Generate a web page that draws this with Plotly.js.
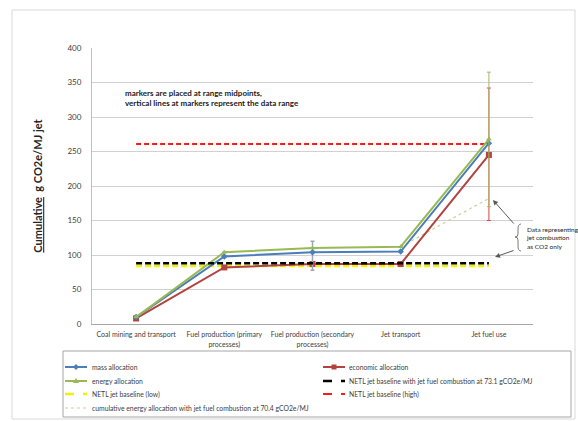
<!DOCTYPE html>
<html>
<head>
<meta charset="utf-8">
<script src="https://cdn.plot.ly/plotly-3.0.1.min.js"></script>
<style>
  html, body { margin: 0; padding: 0; background: #fff; }
  #chart { width: 578px; height: 421px; }
</style>
</head>
<body>
<div id="chart"></div>
<script>
// Life-cycle stages (x categories) and their tick labels
const stages = [
  'Coal mining and transport',
  'Fuel production (primary processes)',
  'Fuel production (secondary processes)',
  'Jet transport',
  'Jet fuel use'
];
const stageLabels = [
  'Coal mining and transport',
  'Fuel production (primary<br>processes)',
  'Fuel production (secondary<br>processes)',
  'Jet transport',
  'Jet fuel use'
];

// Cumulative g CO2e/MJ jet, range midpoints
const massAlloc     = [10, 98, 104, 105, 262];
const economicAlloc = [8, 82, 87, 87, 245];
const energyAlloc   = [10, 104, 110, 112, 268];

// Data ranges around the midpoints (upper / lower extent)
const massPlus      = [0, 0, 16, 0, 0];
const massMinus     = [0, 0, 26, 0, 0];
const economicPlus  = [0, 0, 0, 0, 97];
const economicMinus = [0, 0, 0, 0, 95];
const energyPlus    = [0, 0, 0, 0, 97];
const energyMinus   = [0, 0, 0, 0, 98];

// NETL jet baselines (flat across all stages)
const netlCombustion = [88, 88, 88, 88, 88];
const netlLow        = [84, 84, 84, 84, 84];
const netlHigh       = [261, 261, 261, 261, 261];

// Energy allocation with jet fuel combustion at 70.4 gCO2e/MJ
const comboStages = ['Jet transport', 'Jet fuel use'];
const comboValues = [112, 182];

const yTicks = [0, 50, 100, 150, 200, 250, 300, 350, 400];

const FONT = 'Lato, "Open Sans", sans-serif';
const M = { l: 92, r: 45, t: 48, b: 97 };
const FW = 578, FH = 421;
const PW = FW - M.l - M.r, PH = FH - M.t - M.b;
// pixel -> paper coordinates
const px = x => (x - M.l) / PW;
const py = y => (M.t + PH - y) / PH;

const C = {
  mass: '#4a7ebb', econ: '#b2433f', energy: '#98b954',
  netl: '#000000', low: '#f2f200', high: '#ff1a1a', combo: '#c3d69b'
};

const traces = [
  { x: stages, y: netlLow, name: 'NETL jet baseline (low)', mode: 'lines',
    line: { color: C.low, width: 2.5, dash: '6px,3px' } },
  { x: stages, y: netlHigh, name: 'NETL jet baseline (high)', mode: 'lines',
    line: { color: C.high, width: 2, dash: '5px,3px' } },
  { x: comboStages, y: comboValues,
    name: 'cumulative energy allocation with jet fuel combustion at 70.4 gCO2e/MJ',
    mode: 'lines', line: { color: C.combo, width: 1.2, dash: 'dot' } },
  { x: stages, y: economicAlloc, name: 'economic allocation', mode: 'lines+markers',
    line: { color: C.econ, width: 2 }, marker: { symbol: 'square', size: 6, color: C.econ },
    error_y: { type: 'data', symmetric: false, array: economicPlus, arrayminus: economicMinus,
               color: '#d44', thickness: 1, width: 2 } },
  { x: stages, y: massAlloc, name: 'mass allocation', mode: 'lines+markers',
    line: { color: C.mass, width: 2 }, marker: { symbol: 'diamond', size: 5, color: C.mass },
    error_y: { type: 'data', symmetric: false, array: massPlus, arrayminus: massMinus,
               color: '#9aa7b8', thickness: 1.5, width: 2 } },
  { x: stages, y: energyAlloc, name: 'energy allocation', mode: 'lines+markers',
    line: { color: C.energy, width: 2 }, marker: { symbol: 'triangle-up', size: 5, color: C.energy },
    error_y: { type: 'data', symmetric: false, array: energyPlus, arrayminus: energyMinus,
               color: '#a8b56a', thickness: 1, width: 2 } },
  { x: stages, y: netlCombustion, name: 'NETL jet baseline with jet fuel combustion at 73.1 gCO2e/MJ',
    mode: 'lines', line: { color: C.netl, width: 2.5, dash: '6px,3px' } }
];
traces.forEach(t => { t.showlegend = false; t.hoverinfo = 'skip'; });

// Legend box laid out in two columns below the axes
const legendRows = [
  [{ name: 'mass allocation', color: C.mass, dash: 'solid', w: 2, mk: 'diamond' },
   { name: 'economic allocation', color: C.econ, dash: 'solid', w: 2, mk: 'square' }],
  [{ name: 'energy allocation', color: C.energy, dash: 'solid', w: 2, mk: 'triangle' },
   { name: 'NETL jet baseline with jet fuel combustion at 73.1 gCO2e/MJ', color: C.netl, dash: 'dash', w: 2.5 }],
  [{ name: 'NETL jet baseline (low)', color: C.low, dash: 'dash', w: 2.5 },
   { name: 'NETL jet baseline (high)', color: C.high, dash: 'dash', w: 2 }],
  [{ name: 'cumulative energy allocation with jet fuel combustion at 70.4 gCO2e/MJ', color: C.combo, dash: 'dot', w: 1.2 }]
];
const rowY = [367, 381, 394, 408];
const colX = [[65, 87, 90], [323, 345, 347]];

const shapes = [
  // outer frame
  { type: 'rect', xref: 'paper', yref: 'paper', x0: px(12), x1: px(575), y0: py(419), y1: py(10),
    line: { color: '#d9d9d9', width: 1 } },
  // legend frame
  { type: 'rect', xref: 'paper', yref: 'paper', x0: px(63), x1: px(571), y0: py(417), y1: py(351),
    line: { color: '#a6a6a6', width: 1 } },
  // brace next to the combustion note
  { type: 'path', xref: 'paper', yref: 'paper',
    path: `M ${px(521)},${py(224)} Q ${px(518)},${py(224)} ${px(518)},${py(229)} L ${px(518)},${py(234)} ` +
          `Q ${px(518)},${py(237)} ${px(515)},${py(237)} Q ${px(518)},${py(237)} ${px(518)},${py(240)} ` +
          `L ${px(518)},${py(246)} Q ${px(518)},${py(251)} ${px(521)},${py(251)}`,
    line: { color: '#595959', width: 0.8 } }
];
const annotations = [];

legendRows.forEach((row, r) => {
  row.forEach((it, c) => {
    const [x0, x1, tx] = colX[c];
    const y = rowY[r];
    shapes.push({ type: 'line', xref: 'paper', yref: 'paper', x0: px(x0), x1: px(x1), y0: py(y), y1: py(y),
      line: { color: it.color, width: it.w, dash: it.dash } });
    const mx = (x0 + x1) / 2;
    if (it.mk === 'square') {
      shapes.push({ type: 'rect', xref: 'paper', yref: 'paper', x0: px(mx - 2.5), x1: px(mx + 2.5),
        y0: py(y + 2.5), y1: py(y - 2.5), fillcolor: it.color, line: { width: 0 } });
    } else if (it.mk === 'diamond') {
      shapes.push({ type: 'path', xref: 'paper', yref: 'paper',
        path: `M ${px(mx)},${py(y - 3)} L ${px(mx + 3)},${py(y)} L ${px(mx)},${py(y + 3)} L ${px(mx - 3)},${py(y)} Z`,
        fillcolor: it.color, line: { width: 0 } });
    } else if (it.mk === 'triangle') {
      shapes.push({ type: 'path', xref: 'paper', yref: 'paper',
        path: `M ${px(mx)},${py(y - 3)} L ${px(mx + 3)},${py(y + 2)} L ${px(mx - 3)},${py(y + 2)} Z`,
        fillcolor: it.color, line: { width: 0 } });
    }
    annotations.push({ xref: 'paper', yref: 'paper', x: px(tx), y: py(y), xanchor: 'left', yanchor: 'middle',
      text: it.name, showarrow: false, font: { family: FONT, size: 6.8, color: '#404040' } });
  });
});

annotations.push(
  { xref: 'paper', yref: 'paper', x: px(123), y: py(98), xanchor: 'left', yanchor: 'middle', align: 'left',
    text: 'markers are placed at range midpoints,<br>vertical lines at markers represent the data range',
    showarrow: false, font: { family: FONT, size: 8, color: '#1a1a1a', weight: 'bold' } },
  { xref: 'paper', yref: 'paper', x: px(524), y: py(238), xanchor: 'left', yanchor: 'middle', align: 'left',
    text: 'Data representing<br>jet combustion<br>as CO2 only',
    showarrow: false, font: { family: FONT, size: 6.5, color: '#262626' } },
  { xref: 'paper', yref: 'paper', x: px(493), y: py(200), text: '', showarrow: true,
    ax: 22, ay: 25, arrowhead: 2, arrowsize: 1, arrowwidth: 1, arrowcolor: '#595959' },
  { xref: 'paper', yref: 'paper', x: px(495), y: py(257), text: '', showarrow: true,
    ax: 20, ay: -7, arrowhead: 2, arrowsize: 1, arrowwidth: 1, arrowcolor: '#595959' }
);

const layout = {
  width: FW, height: FH,
  margin: M,
  paper_bgcolor: '#fff', plot_bgcolor: '#fff',
  showlegend: false,
  font: { family: FONT, color: '#404040' },
  xaxis: {
    type: 'category', range: [-0.5, 4.5],
    tickvals: stages, ticktext: stageLabels,
    showgrid: false, zeroline: false, ticks: '',
    showline: true, linecolor: '#a6a6a6', linewidth: 1,
    tickfont: { family: FONT, size: 7, color: '#404040' },
    ticklabelstandoff: 4, fixedrange: true
  },
  yaxis: {
    range: [0, 400], tickvals: yTicks, ticks: '',
    showgrid: true, gridcolor: '#d0d0d0', gridwidth: 1,
    zeroline: false, showline: true, linecolor: '#bfbfbf', linewidth: 1,
    tickfont: { family: FONT, size: 8, color: '#404040' },
    ticklabelstandoff: 8,
    title: { text: '<u>Cumulative</u>  <u>g</u> CO2e/MJ jet', standoff: 22,
             font: { family: FONT, size: 11, color: '#262626', weight: 'bold' } },
    fixedrange: true
  },
  shapes: shapes,
  annotations: annotations
};

Plotly.newPlot('chart', traces, layout, { displayModeBar: false, staticPlot: true });
</script>
</body>
</html>
